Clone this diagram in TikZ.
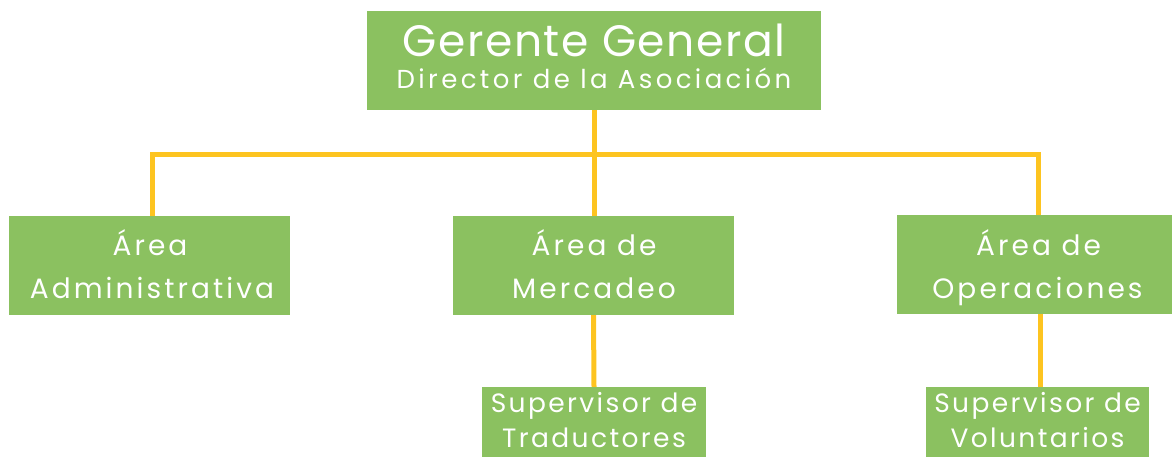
\documentclass[tikz,border=0pt]{standalone}
\usepackage{fontspec}
\setmainfont{Poppins}
\definecolor{boxgreen}{RGB}{139,193,96}
\definecolor{lineyellow}{RGB}{253,196,32}
\begin{document}
\begin{tikzpicture}[x=1pt,y=-1pt,
  box/.style={fill=boxgreen, draw=none, inner sep=0pt, rectangle},
  conn/.style={draw=lineyellow, line width=5pt, line join=miter},
  lbl/.style={text=white, inner sep=0pt, anchor=base},
  big/.style={font=\fontsize{44}{50}\selectfont\addfontfeatures{LetterSpace=3.5}},
  sub/.style={font=\fontsize{26}{30}\selectfont\addfontfeatures{LetterSpace=13}},
  mid/.style={font=\fontsize{28}{32}\selectfont\addfontfeatures{LetterSpace=11}},
  small/.style={font=\fontsize{26.5}{30}\selectfont\addfontfeatures{LetterSpace=9}}]
\useasboundingbox (0,0) rectangle (1172,457);
\begin{scope}
\clip (0,0) rectangle (1172,457);
% boxes
\node[box, minimum width=454pt, minimum height=99pt] (gg) at (594,60.5) {};
\node[box, minimum width=281pt, minimum height=99pt] (adm) at (149.5,265.5) {};
\node[box, minimum width=281pt, minimum height=99pt] (mer) at (593.5,265.5) {};
\node[box, minimum width=281pt, minimum height=99pt] (ope) at (1037.5,264.5) {};
\node[box, minimum width=224pt, minimum height=90pt] (sup1) at (594,432) {};
\node[box, minimum width=223pt, minimum height=90pt] (sup2) at (1037.5,432) {};
\end{scope}
\coordinate (bar) at (594,155);
% connectors
\draw[conn] (gg.south) -- (gg.south |- mer.north);
\draw[conn] ([xshift=2.5pt]adm.north) -- ([xshift=2.5pt]adm.north |- bar) -- ([xshift=1pt]ope.north |- bar) -- ([xshift=1pt]ope.north);
\draw[conn] (mer.south) -- (sup1.north);
\draw[conn] ([xshift=2.5pt]ope.south) -- ([xshift=2.5pt]sup2.north);
% labels
\node[lbl, big] (t1) at (594,57) {Gerente General};
\node[lbl, sub] (t2) at (594,89) {Director de la Asociación};
\node[lbl, mid] (t3) at (150,255) {Área};
\node[lbl, mid] (t4) at (152,298) {Administrativa};
\node[lbl, mid] (t5) at (594,255) {Área de};
\node[lbl, mid] (t6) at (594,298) {Mercadeo};
\node[lbl, mid] (t7) at (1038.5,255) {Área de};
\node[lbl, mid] (t8) at (1037.5,298) {Operaciones};
\node[lbl, small] (t9) at (594,412) {Supervisor de};
\node[lbl, small] (t10) at (594,447) {Traductores};
\node[lbl, small] (t11) at (1037.5,412) {Supervisor de};
\node[lbl, small] (t12) at (1037.5,447) {Voluntarios};
\end{tikzpicture}
\end{document}
